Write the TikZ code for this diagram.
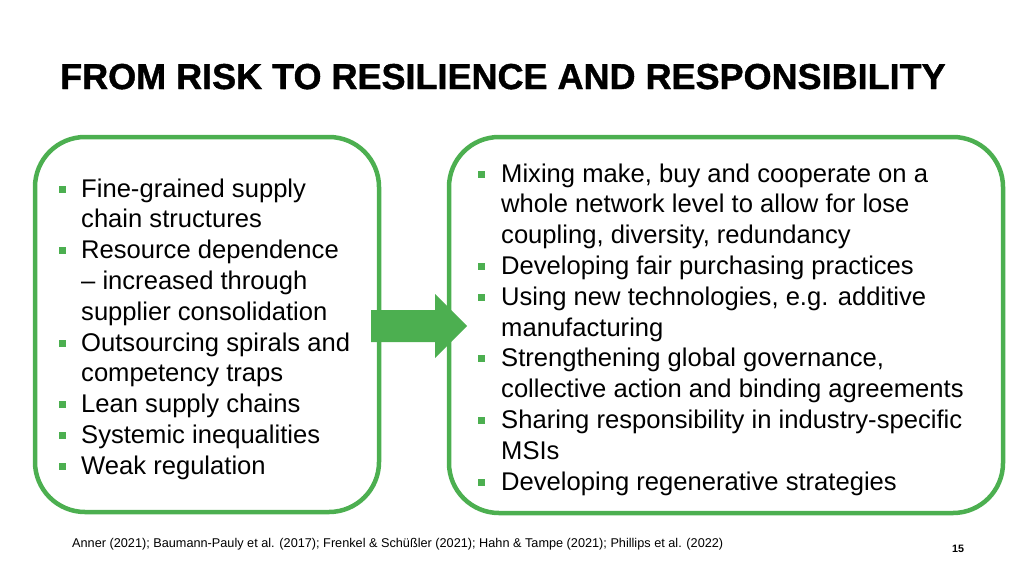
\documentclass[tikz,border=0pt]{standalone}
\usepackage{fontspec}
\setmainfont{Liberation Sans}
\newfontfamily\heavyfont[FakeBold=1.2]{Liberation Sans Bold}
\definecolor{grn}{RGB}{76,175,80}
\begin{document}
\begin{tikzpicture}[x=1pt,y=-1pt,
  panel/.style={draw=grn,line width=4.5pt,rounded corners=50pt},
  bul/.style={fill=grn,minimum size=7pt,inner sep=0pt},
  txt/.style={anchor=base west,inner sep=0pt,font=\fontsize{25.6}{30.8}\selectfont},
  ]
\useasboundingbox (0,0) rectangle (1024,576);
% title
\node[anchor=base west,inner sep=0pt,font=\fontsize{36}{40}\selectfont\heavyfont] (title) at (60,89) {FROM RISK TO RESILIENCE AND RESPONSIBILITY};
% panels
\draw[panel] (35,137) rectangle (379,512);
\draw[panel] (449,137) rectangle (1003,513);
% arrow
\fill[grn] (371,310) -- (435,310) -- (435,294) -- (467,326) -- (435,358) -- (435,342) -- (371,342) -- cycle;
% left bullets
\foreach \y in {197,258.6,351,412.6,443.4,474.2} \node[bul] at (62,\y-8) {};
\node[txt] (l1) at (81,197) {Fine-grained supply};
\node[txt] (l2) at (81,227.8) {chain structures};
\node[txt] (l3) at (81,258.6) {Resource dependence};
\node[txt] (l4) at (81,289.4) {– increased through};
\node[txt] (l5) at (81,320.2) {supplier consolidation};
\node[txt] (l6) at (81,351) {Outsourcing spirals and};
\node[txt] (l7) at (81,381.8) {competency traps};
\node[txt] (l8) at (81,412.6) {Lean supply chains};
\node[txt] (l9) at (81,443.4) {Systemic inequalities};
\node[txt] (l10) at (81,474.2) {Weak regulation};
% right bullets
\foreach \y in {182,274.4,305.2,366.8,428.4,490} \node[bul] at (481,\y-8) {};
\node[txt] (r1) at (501,182) {Mixing make, buy and cooperate on a};
\node[txt] (r2) at (501,212.8) {whole network level to allow for lose};
\node[txt] (r3) at (501,243.6) {coupling, diversity, redundancy};
\node[txt] (r4) at (501,274.4) {Developing fair purchasing practices};
\node[txt] (r5) at (501,305.2) {Using new technologies, e.g. additive};
\node[txt] (r6) at (501,336) {manufacturing};
\node[txt] (r7) at (501,366.8) {Strengthening global governance,};
\node[txt] (r8) at (501,397.6) {collective action and binding agreements};
\node[txt] (r9) at (501,428.4) {Sharing responsibility in industry-specific};
\node[txt] (r10) at (501,459.2) {MSIs};
\node[txt] (r11) at (501,490) {Developing regenerative strategies};
% footer
\node[anchor=base west,inner sep=0pt,font=\fontsize{12.7}{14}\selectfont] (foot) at (72,547) {Anner (2021); Baumann-Pauly et al. (2017); Frenkel \& Schüßler (2021); Hahn \& Tampe (2021); Phillips et al. (2022)};
\node[anchor=base west,inner sep=0pt,font=\fontsize{10.7}{12}\selectfont\bfseries] (page) at (952,552) {15};
\end{tikzpicture}
\end{document}
